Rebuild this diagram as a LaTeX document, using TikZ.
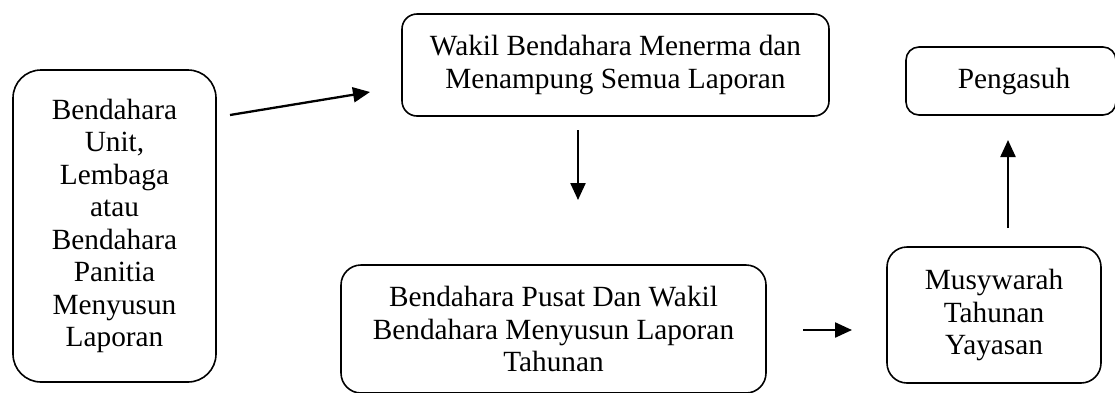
\documentclass[tikz,border=0pt]{standalone}
\usepackage{fontspec}
\setmainfont{Liberation Serif}
\usetikzlibrary{arrows.meta}
\begin{document}
\begin{tikzpicture}[x=1pt,y=-1pt,
  box/.style={draw, line width=1.6pt, align=center, inner sep=0pt,
    font=\fontsize{29.3}{32.5}\selectfont},
  conn/.style={line width=2.3pt, -{Triangle[length=17pt,width=15pt]}}]
\useasboundingbox (0,0) rectangle (1115,392);
\node[box, rounded corners=28pt, minimum width=203pt, minimum height=312pt] (b1) at (114.5,226)
  {Bendahara\\Unit,\\Lembaga\\atau\\Bendahara\\Panitia\\Menyusun\\Laporan};
\node[box, rounded corners=15pt, minimum width=427pt, minimum height=102pt] (b2) at (615.5,65)
  {Wakil Bendahara Menerma dan\\Menampung Semua Laporan};
\node[box, rounded corners=13pt, minimum width=210pt, minimum height=68pt] (b3) at (1011,81)
  {\hspace*{6pt}Pengasuh};
\node[box, rounded corners=20pt, minimum width=425pt, minimum height=128pt] (b4) at (553.5,329)
  {Bendahara Pusat Dan Wakil\\Bendahara Menyusun Laporan\\Tahunan};
\node[box, rounded corners=20pt, minimum width=214pt, minimum height=136pt] (b5) at (994,315)
  {Musywarah\\Tahunan\\Yayasan};
\coordinate (a1s) at (230,115);
\coordinate (a1e) at (370,92);
\coordinate (a2s) at (578,130);
\coordinate (a2e) at (578,200);
\coordinate (a3s) at (803,330);
\coordinate (a3e) at (852,330);
\coordinate (a4s) at (1008,228);
\coordinate (a4e) at (1008,140);
\draw[conn] (a1s) -- (a1e);
\draw[conn] (a2s) -- (a2e);
\draw[conn] (a3s) -- (a3e);
\draw[conn] (a4s) -- (a4e);
\end{tikzpicture}
\end{document}
